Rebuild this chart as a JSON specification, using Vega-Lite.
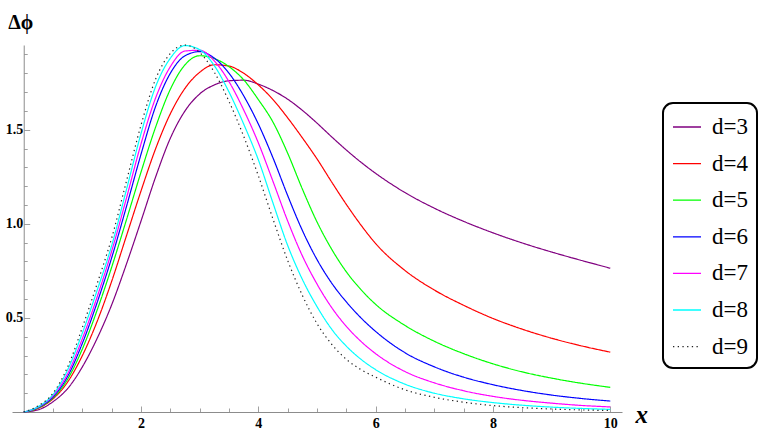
{
  "$schema": "https://vega.github.io/schema/vega-lite/v6.json",
  "width": 610,
  "height": 367,
  "autosize": {"type": "none"},
  "padding": {"left": 12, "top": 45, "right": 141, "bottom": 24},
  "background": "white",
  "config": {"view": {"stroke": null}, "legend": {"strokeWidth": 2}, "font": "Liberation Serif"},
  "data": {"values": [
    {"d":"d=3","x":0,"y":0},{"d":"d=3","x":0.25,"y":0.012},{"d":"d=3","x":0.5,"y":0.055},{"d":"d=3","x":0.75,"y":0.125},{"d":"d=3","x":1,"y":0.24},{"d":"d=3","x":1.25,"y":0.39},{"d":"d=3","x":1.5,"y":0.57},{"d":"d=3","x":1.75,"y":0.785},{"d":"d=3","x":2,"y":1.015},{"d":"d=3","x":2.25,"y":1.25},{"d":"d=3","x":2.5,"y":1.455},{"d":"d=3","x":2.75,"y":1.6},{"d":"d=3","x":3,"y":1.69},{"d":"d=3","x":3.25,"y":1.738},{"d":"d=3","x":3.5,"y":1.76},{"d":"d=3","x":3.75,"y":1.763},{"d":"d=3","x":4,"y":1.742},{"d":"d=3","x":4.25,"y":1.708},{"d":"d=3","x":4.5,"y":1.662},{"d":"d=3","x":4.75,"y":1.603},{"d":"d=3","x":5,"y":1.535},{"d":"d=3","x":5.25,"y":1.462},{"d":"d=3","x":5.5,"y":1.392},{"d":"d=3","x":5.75,"y":1.327},{"d":"d=3","x":6,"y":1.268},{"d":"d=3","x":6.5,"y":1.166},{"d":"d=3","x":7,"y":1.083},{"d":"d=3","x":7.5,"y":1.013},{"d":"d=3","x":8,"y":0.952},{"d":"d=3","x":8.5,"y":0.898},{"d":"d=3","x":9,"y":0.85},{"d":"d=3","x":9.5,"y":0.806},{"d":"d=3","x":10,"y":0.764},
    {"d":"d=4","x":0,"y":0},{"d":"d=4","x":0.25,"y":0.02},{"d":"d=4","x":0.5,"y":0.07},{"d":"d=4","x":0.75,"y":0.16},{"d":"d=4","x":1,"y":0.3},{"d":"d=4","x":1.25,"y":0.48},{"d":"d=4","x":1.5,"y":0.695},{"d":"d=4","x":1.75,"y":0.935},{"d":"d=4","x":2,"y":1.175},{"d":"d=4","x":2.25,"y":1.4},{"d":"d=4","x":2.5,"y":1.585},{"d":"d=4","x":2.75,"y":1.72},{"d":"d=4","x":3,"y":1.805},{"d":"d=4","x":3.25,"y":1.845},{"d":"d=4","x":3.5,"y":1.838},{"d":"d=4","x":3.75,"y":1.8},{"d":"d=4","x":4,"y":1.738},{"d":"d=4","x":4.25,"y":1.66},{"d":"d=4","x":4.5,"y":1.563},{"d":"d=4","x":4.75,"y":1.457},{"d":"d=4","x":5,"y":1.345},{"d":"d=4","x":5.25,"y":1.222},{"d":"d=4","x":5.5,"y":1.103},{"d":"d=4","x":5.75,"y":0.993},{"d":"d=4","x":6,"y":0.895},{"d":"d=4","x":6.5,"y":0.752},{"d":"d=4","x":7,"y":0.648},{"d":"d=4","x":7.5,"y":0.567},{"d":"d=4","x":8,"y":0.497},{"d":"d=4","x":8.5,"y":0.44},{"d":"d=4","x":9,"y":0.392},{"d":"d=4","x":9.5,"y":0.352},{"d":"d=4","x":10,"y":0.318},
    {"d":"d=5","x":0,"y":0},{"d":"d=5","x":0.25,"y":0.022},{"d":"d=5","x":0.5,"y":0.075},{"d":"d=5","x":0.75,"y":0.175},{"d":"d=5","x":1,"y":0.335},{"d":"d=5","x":1.25,"y":0.54},{"d":"d=5","x":1.5,"y":0.77},{"d":"d=5","x":1.75,"y":1.02},{"d":"d=5","x":2,"y":1.275},{"d":"d=5","x":2.25,"y":1.515},{"d":"d=5","x":2.5,"y":1.715},{"d":"d=5","x":2.75,"y":1.845},{"d":"d=5","x":3,"y":1.893},{"d":"d=5","x":3.25,"y":1.878},{"d":"d=5","x":3.5,"y":1.835},{"d":"d=5","x":3.75,"y":1.765},{"d":"d=5","x":4,"y":1.66},{"d":"d=5","x":4.25,"y":1.54},{"d":"d=5","x":4.5,"y":1.375},{"d":"d=5","x":4.75,"y":1.185},{"d":"d=5","x":5,"y":1.01},{"d":"d=5","x":5.25,"y":0.865},{"d":"d=5","x":5.5,"y":0.745},{"d":"d=5","x":5.75,"y":0.65},{"d":"d=5","x":6,"y":0.572},{"d":"d=5","x":6.5,"y":0.46},{"d":"d=5","x":7,"y":0.376},{"d":"d=5","x":7.5,"y":0.31},{"d":"d=5","x":8,"y":0.256},{"d":"d=5","x":8.5,"y":0.213},{"d":"d=5","x":9,"y":0.18},{"d":"d=5","x":9.5,"y":0.153},{"d":"d=5","x":10,"y":0.131},
    {"d":"d=6","x":0,"y":0},{"d":"d=6","x":0.25,"y":0.025},{"d":"d=6","x":0.5,"y":0.08},{"d":"d=6","x":0.75,"y":0.19},{"d":"d=6","x":1,"y":0.365},{"d":"d=6","x":1.25,"y":0.58},{"d":"d=6","x":1.5,"y":0.82},{"d":"d=6","x":1.75,"y":1.09},{"d":"d=6","x":2,"y":1.37},{"d":"d=6","x":2.25,"y":1.625},{"d":"d=6","x":2.5,"y":1.8},{"d":"d=6","x":2.75,"y":1.893},{"d":"d=6","x":3,"y":1.915},{"d":"d=6","x":3.25,"y":1.88},{"d":"d=6","x":3.5,"y":1.8},{"d":"d=6","x":3.75,"y":1.68},{"d":"d=6","x":4,"y":1.53},{"d":"d=6","x":4.25,"y":1.35},{"d":"d=6","x":4.5,"y":1.15},{"d":"d=6","x":4.75,"y":0.965},{"d":"d=6","x":5,"y":0.81},{"d":"d=6","x":5.25,"y":0.685},{"d":"d=6","x":5.5,"y":0.585},{"d":"d=6","x":5.75,"y":0.5},{"d":"d=6","x":6,"y":0.428},{"d":"d=6","x":6.5,"y":0.315},{"d":"d=6","x":7,"y":0.24},{"d":"d=6","x":7.5,"y":0.185},{"d":"d=6","x":8,"y":0.145},{"d":"d=6","x":8.5,"y":0.114},{"d":"d=6","x":9,"y":0.09},{"d":"d=6","x":9.5,"y":0.072},{"d":"d=6","x":10,"y":0.058},
    {"d":"d=7","x":0,"y":0},{"d":"d=7","x":0.25,"y":0.027},{"d":"d=7","x":0.5,"y":0.087},{"d":"d=7","x":0.75,"y":0.205},{"d":"d=7","x":1,"y":0.39},{"d":"d=7","x":1.25,"y":0.61},{"d":"d=7","x":1.5,"y":0.855},{"d":"d=7","x":1.75,"y":1.135},{"d":"d=7","x":2,"y":1.425},{"d":"d=7","x":2.25,"y":1.67},{"d":"d=7","x":2.5,"y":1.835},{"d":"d=7","x":2.75,"y":1.918},{"d":"d=7","x":3,"y":1.922},{"d":"d=7","x":3.25,"y":1.865},{"d":"d=7","x":3.5,"y":1.755},{"d":"d=7","x":3.75,"y":1.605},{"d":"d=7","x":4,"y":1.43},{"d":"d=7","x":4.25,"y":1.225},{"d":"d=7","x":4.5,"y":1.015},{"d":"d=7","x":4.75,"y":0.83},{"d":"d=7","x":5,"y":0.68},{"d":"d=7","x":5.25,"y":0.555},{"d":"d=7","x":5.5,"y":0.455},{"d":"d=7","x":5.75,"y":0.375},{"d":"d=7","x":6,"y":0.31},{"d":"d=7","x":6.5,"y":0.215},{"d":"d=7","x":7,"y":0.155},{"d":"d=7","x":7.5,"y":0.113},{"d":"d=7","x":8,"y":0.083},{"d":"d=7","x":8.5,"y":0.062},{"d":"d=7","x":9,"y":0.047},{"d":"d=7","x":9.5,"y":0.035},{"d":"d=7","x":10,"y":0.027},
    {"d":"d=8","x":0,"y":0},{"d":"d=8","x":0.25,"y":0.029},{"d":"d=8","x":0.5,"y":0.093},{"d":"d=8","x":0.75,"y":0.225},{"d":"d=8","x":1,"y":0.42},{"d":"d=8","x":1.25,"y":0.645},{"d":"d=8","x":1.5,"y":0.885},{"d":"d=8","x":1.75,"y":1.18},{"d":"d=8","x":2,"y":1.48},{"d":"d=8","x":2.25,"y":1.73},{"d":"d=8","x":2.5,"y":1.88},{"d":"d=8","x":2.75,"y":1.947},{"d":"d=8","x":3,"y":1.925},{"d":"d=8","x":3.25,"y":1.84},{"d":"d=8","x":3.5,"y":1.7},{"d":"d=8","x":3.75,"y":1.53},{"d":"d=8","x":4,"y":1.34},{"d":"d=8","x":4.25,"y":1.11},{"d":"d=8","x":4.5,"y":0.885},{"d":"d=8","x":4.75,"y":0.705},{"d":"d=8","x":5,"y":0.56},{"d":"d=8","x":5.25,"y":0.44},{"d":"d=8","x":5.5,"y":0.35},{"d":"d=8","x":5.75,"y":0.28},{"d":"d=8","x":6,"y":0.225},{"d":"d=8","x":6.5,"y":0.148},{"d":"d=8","x":7,"y":0.1},{"d":"d=8","x":7.5,"y":0.07},{"d":"d=8","x":8,"y":0.05},{"d":"d=8","x":8.5,"y":0.036},{"d":"d=8","x":9,"y":0.026},{"d":"d=8","x":9.5,"y":0.019},{"d":"d=8","x":10,"y":0.014},
    {"d":"d=9","x":0,"y":0},{"d":"d=9","x":0.25,"y":0.033},{"d":"d=9","x":0.5,"y":0.1},{"d":"d=9","x":0.75,"y":0.24},{"d":"d=9","x":1,"y":0.45},{"d":"d=9","x":1.25,"y":0.68},{"d":"d=9","x":1.5,"y":0.925},{"d":"d=9","x":1.75,"y":1.225},{"d":"d=9","x":2,"y":1.525},{"d":"d=9","x":2.25,"y":1.77},{"d":"d=9","x":2.5,"y":1.905},{"d":"d=9","x":2.75,"y":1.95},{"d":"d=9","x":3,"y":1.91},{"d":"d=9","x":3.25,"y":1.805},{"d":"d=9","x":3.5,"y":1.65},{"d":"d=9","x":3.75,"y":1.465},{"d":"d=9","x":4,"y":1.255},{"d":"d=9","x":4.25,"y":1.025},{"d":"d=9","x":4.5,"y":0.805},{"d":"d=9","x":4.75,"y":0.62},{"d":"d=9","x":5,"y":0.47},{"d":"d=9","x":5.25,"y":0.36},{"d":"d=9","x":5.5,"y":0.28},{"d":"d=9","x":5.75,"y":0.225},{"d":"d=9","x":6,"y":0.185},{"d":"d=9","x":6.5,"y":0.118},{"d":"d=9","x":7,"y":0.078},{"d":"d=9","x":7.5,"y":0.052},{"d":"d=9","x":8,"y":0.034},{"d":"d=9","x":8.5,"y":0.023},{"d":"d=9","x":9,"y":0.016},{"d":"d=9","x":9.5,"y":0.011},{"d":"d=9","x":10,"y":0.008}
  ]},
  "mark": {"type": "line", "interpolate": "monotone", "strokeWidth": 1.2},
  "encoding": {
    "x": {
      "field": "x", "type": "quantitative",
      "scale": {"domain": [-0.2, 10.2], "nice": false, "zero": false},
      "axis": {
        "title": "x", "titleFont": "Liberation Serif", "titleFontStyle": "italic", "titleFontWeight": "bold", "titleFontSize": 25, "titleColor": "black",
        "titleX": 623, "titleY": 10, "titleAlign": "left", "titleBaseline": "alphabetic",
        "values": [0.5,1,1.5,2,2.5,3,3.5,4,4.5,5,5.5,6,6.5,7,7.5,8,8.5,9,9.5,10],
        "labelExpr": "datum.value % 2 === 0 ? format(datum.value, 'd') : ''",
        "labelFont": "Liberation Serif", "labelFontWeight": "bold", "labelFontSize": 14, "labelColor": "black",
        "labelPadding": 9, "labelFlush": false, "labelOverlap": false,
        "ticks": true, "tickSize": -5, "tickColor": "#a0a0a0", "tickWidth": 1,
        "domainColor": "#8c8c8c", "domainWidth": 1, "grid": false,
        "encoding": {"ticks": {"y2": {"condition": {"test": "datum.value % 2 === 0", "value": -6}, "value": -4}}}
      }
    },
    "y": {
      "field": "y", "type": "quantitative",
      "scale": {"domain": [0, 1.95], "nice": false, "zero": false},
      "axis": {
        "title": "Δϕ", "titleAngle": 0, "titleFont": "Liberation Serif", "titleFontWeight": "bold", "titleFontSize": 20, "titleColor": "black",
        "titleX": -16, "titleY": -17, "titleAlign": "left", "titleBaseline": "alphabetic",
        "offset": -11.73,
        "values": [0.1,0.2,0.3,0.4,0.5,0.6,0.7,0.8,0.9,1.0,1.1,1.2,1.3,1.4,1.5,1.6,1.7,1.8,1.9],
        "labelExpr": "abs(datum.value*2 - round(datum.value*2)) < 0.001 ? format(datum.value, '.1f') : ''",
        "labelFont": "Liberation Serif", "labelFontWeight": "bold", "labelFontSize": 14, "labelColor": "black",
        "labelPadding": 5, "labelFlush": false, "labelOverlap": false,
        "ticks": true, "tickSize": -4, "tickColor": "#a0a0a0", "tickWidth": 1,
        "domainColor": "#8c8c8c", "domainWidth": 1, "grid": false,
        "encoding": {"ticks": {"x2": {"condition": {"test": "abs(datum.value*2 - round(datum.value*2)) < 0.001", "value": 6}, "value": 3.5}}}
      }
    },
    "color": {
      "field": "d", "type": "nominal",
      "scale": {"domain": ["d=3","d=4","d=5","d=6","d=7","d=8","d=9"], "range": ["#800080","#ff0000","#00ff00","#0000ff","#ff00ff","#00ffff","#222222"]},
      "legend": {
        "title": null, "orient": "none", "legendX": 651, "legendY": 58,
        "symbolType": "stroke", "symbolSize": 784, "symbolStrokeWidth": 1.3,
        "labelFont": "Liberation Serif", "labelFontSize": 23, "labelColor": "black", "labelLimit": 0, "labelOffset": 10,
        "padding": 9, "rowPadding": 9.6,
        "strokeColor": "black", "cornerRadius": 10, "fillColor": "white"
      }
    },
    "strokeDash": {
      "field": "d", "type": "nominal",
      "scale": {"domain": ["d=3","d=4","d=5","d=6","d=7","d=8","d=9"], "range": [[1,0],[1,0],[1,0],[1,0],[1,0],[1,0],[1.3,3.4]]},
      "legend": null
    }
  }
}
